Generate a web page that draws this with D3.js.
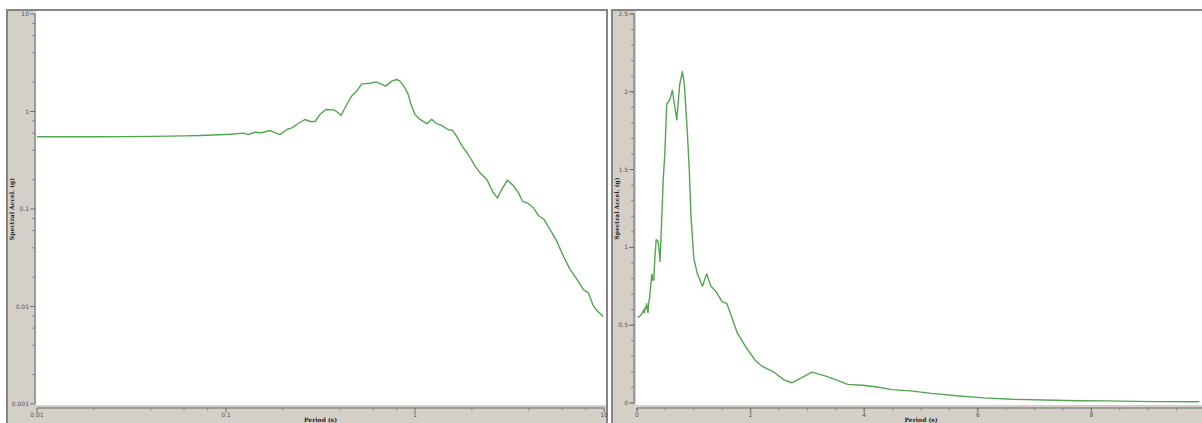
<!DOCTYPE html>
<html>
<head>
<meta charset="utf-8">
<script src="https://cdn.jsdelivr.net/npm/d3@7"></script>
<style>
  html, body { margin: 0; padding: 0; background: #ffffff; }
  svg { display: block; }
  .tick-label { font-family: "DejaVu Sans", sans-serif; font-size: 6px; fill: #555; }
  .axis-title { font-family: "DejaVu Serif", serif; font-size: 6px; font-weight: bold; fill: #222; }
</style>
</head>
<body>
<script>
// Response spectrum: period (s) and spectral acceleration (g)
const periods = [0.01, 0.02, 0.03, 0.04, 0.05, 0.06, 0.0728, 0.0858, 0.105, 0.1235,
  0.131, 0.1425, 0.154, 0.171, 0.193, 0.21, 0.223, 0.241, 0.262, 0.278,
  0.296, 0.314, 0.338, 0.37, 0.385, 0.406, 0.435, 0.462, 0.491, 0.523,
  0.578, 0.622, 0.70, 0.753, 0.80, 0.833, 0.885, 0.92, 0.95, 1.0,
  1.063, 1.153, 1.225, 1.302, 1.384, 1.5, 1.58, 1.66, 1.766, 1.915,
  2.08, 2.207, 2.41, 2.595, 2.726, 2.877, 3.08, 3.31, 3.52, 3.71,
  3.97, 4.23, 4.49, 4.82, 5.18, 5.62, 6.10, 6.61, 7.17, 7.78,
  8.26, 8.77, 9.17, 9.90];
const accel = [0.55, 0.551, 0.553, 0.556, 0.559, 0.563, 0.567, 0.575, 0.585, 0.6,
  0.58, 0.613, 0.605, 0.638, 0.58, 0.654, 0.68, 0.753, 0.828, 0.79,
  0.79, 0.93, 1.05, 1.04, 1.0, 0.91, 1.18, 1.44, 1.61, 1.92,
  1.95, 2.01, 1.82, 2.05, 2.13, 2.05, 1.75, 1.5, 1.2, 0.93,
  0.83, 0.75, 0.83, 0.75, 0.72, 0.65, 0.64, 0.56, 0.45, 0.36,
  0.275, 0.235, 0.198, 0.147, 0.13, 0.158, 0.198, 0.174, 0.147, 0.120,
  0.114, 0.103, 0.0858, 0.078, 0.0617, 0.0468, 0.0328, 0.024, 0.0192, 0.0149,
  0.0138, 0.0102, 0.0091, 0.0079];

// Tick values
const logMajorTicks = [0.001, 0.01, 0.1, 1, 10];
const logMinorFactors = [2, 4, 6, 8];
const linYMajor = [0, 0.5, 1, 1.5, 2, 2.5];
const linXMajor = [0, 2, 4, 6, 8];

const W = 1202, H = 423;
const lineColor = "#52a650";
const beige = "#d4d0c8";
const frameColor = "#858585";

const svg = d3.select("body").append("svg").attr("width", W).attr("height", H);
const data = periods.map((t, i) => ({ t, a: accel[i] }));

function panel(cfg) {
  const g = svg.append("g");
  // frame + axis background
  g.append("rect").attr("x", cfg.fx).attr("y", 10).attr("width", cfg.fw).attr("height", H)
    .attr("fill", beige).attr("stroke", frameColor).attr("stroke-width", 2);
  // plotting canvas
  g.append("rect").attr("x", cfg.cx0).attr("y", 11).attr("width", cfg.cx1 - cfg.cx0)
    .attr("height", 405 - 11).attr("fill", "#ffffff");

  const clipId = "clip" + cfg.id;
  svg.append("clipPath").attr("id", clipId).append("rect")
    .attr("x", cfg.cx0).attr("y", 11).attr("width", cfg.cx1 - cfg.cx0).attr("height", 394);

  const x = cfg.x, y = cfg.y;

  // y axis line and ticks
  g.append("line").attr("x1", cfg.ax).attr("x2", cfg.ax).attr("y1", y.range()[1]).attr("y2", y.range()[0])
    .attr("stroke", "#666").attr("stroke-width", 1);
  cfg.yMinor.forEach(v => {
    g.append("line").attr("x1", cfg.ax - 3).attr("x2", cfg.ax).attr("y1", y(v)).attr("y2", y(v))
      .attr("stroke", "#777").attr("stroke-width", 0.8);
  });
  cfg.yMajor.forEach(v => {
    g.append("line").attr("x1", cfg.ax - 5).attr("x2", cfg.ax).attr("y1", y(v)).attr("y2", y(v))
      .attr("stroke", "#666").attr("stroke-width", 0.9);
    g.append("text").attr("class", "tick-label").attr("x", cfg.ax - 6).attr("y", y(v) + 2)
      .attr("text-anchor", "end").text(cfg.yFmt(v));
  });

  // x axis line and ticks
  const axY = 408;
  g.append("line").attr("x1", x.range()[0]).attr("x2", Math.min(x.range()[1], W))
    .attr("y1", axY).attr("y2", axY).attr("stroke", "#666").attr("stroke-width", 1);
  cfg.xMinor.forEach(v => {
    g.append("line").attr("x1", x(v)).attr("x2", x(v)).attr("y1", axY).attr("y2", axY + 2.5)
      .attr("stroke", "#777").attr("stroke-width", 0.8);
  });
  cfg.xMajor.forEach(v => {
    g.append("line").attr("x1", x(v)).attr("x2", x(v)).attr("y1", axY).attr("y2", axY + 4.5)
      .attr("stroke", "#666").attr("stroke-width", 0.9);
    g.append("text").attr("class", "tick-label").attr("x", x(v)).attr("y", axY + 9)
      .attr("text-anchor", "middle").text(cfg.xFmt(v));
  });

  // axis titles
  g.append("text").attr("class", "axis-title")
    .attr("transform", `translate(${cfg.fx + 7},${(y.range()[0] + y.range()[1]) / 2}) rotate(-90)`)
    .attr("text-anchor", "middle").text("Spectral Accel. (g)");
  g.append("text").attr("class", "axis-title")
    .attr("x", (x.range()[0] + x.range()[1]) / 2).attr("y", 422)
    .attr("text-anchor", "middle").text("Period (s)");

  // spectrum curve
  const line = d3.line().x(d => x(d.t)).y(d => y(d.a));
  g.append("path").datum(data).attr("clip-path", `url(#${clipId})`)
    .attr("d", line).attr("fill", "none").attr("stroke", lineColor)
    .attr("stroke-width", 1.4).attr("stroke-linejoin", "round");
}

// Left panel: log-log
const xLog = d3.scaleLog().domain([0.01, 10]).range([37, 604]);
const yLog = d3.scaleLog().domain([0.001, 10]).range([404, 14]);
const logMinor = (lo, hi) => {
  const out = [];
  for (let d = lo; d < hi; d *= 10) logMinorFactors.forEach(f => out.push(d * f));
  return out;
};
panel({
  id: "L", fx: 7, fw: 600, cx0: 36, cx1: 606, ax: 35,
  x: xLog, y: yLog,
  xMajor: logMajorTicks.filter(v => v >= 0.01), xMinor: logMinor(0.01, 10),
  yMajor: logMajorTicks, yMinor: logMinor(0.001, 10),
  xFmt: v => String(v), yFmt: v => String(v)
});

// Right panel: linear
const xLin = d3.scaleLinear().domain([0, 10]).range([637, 1205]);
const yLin = d3.scaleLinear().domain([0, 2.5]).range([403, 14]);
panel({
  id: "R", fx: 612, fw: 620, cx0: 636, cx1: 1210, ax: 634,
  x: xLin, y: yLin,
  xMajor: linXMajor, xMinor: d3.range(0, 10.01, 0.5),
  yMajor: linYMajor, yMinor: d3.range(0, 2.51, 0.1),
  xFmt: v => String(v), yFmt: v => String(v)
});
</script>
</body>
</html>
